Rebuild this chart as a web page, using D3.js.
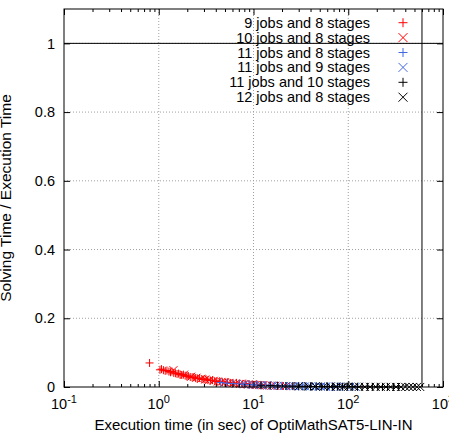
<!DOCTYPE html>
<html lang="en">

<head>
    <title>Solving time ratio</title>
    <meta charset="utf-8">
    <script src="https://d3js.org/d3.v7.min.js"></script>
    <style>
        body { margin: 0; background: #fff; }
        svg { display: block; font-family: "Liberation Sans", Arial, sans-serif; }
        .grid line { stroke: #a0a0a0; stroke-dasharray: 1,2; }
        .tick text { font-size: 14.5px; fill: #000; }
    </style>
</head>

<body>
    <div id="container1"></div>
    <script>
        // Data: [execution time (s), solving time / execution time]
        const labels = ["9 jobs and 8 stages", "10 jobs and 8 stages", "11 jobs and 8 stages",
            "11 jobs and 9 stages", "11 jobs and 10 stages", "12 jobs and 8 stages"];

        const j9s8 = [[0.80, 0.070], [1.03, 0.050], [1.07, 0.052], [1.12, 0.049], [1.17, 0.047], [1.22, 0.048],
            [1.28, 0.045], [1.33, 0.043], [1.38, 0.045], [1.44, 0.041], [1.50, 0.040], [1.56, 0.038],
            [1.62, 0.039], [1.68, 0.036], [1.75, 0.035], [1.82, 0.036], [1.90, 0.033], [1.98, 0.031],
            [2.05, 0.032], [2.15, 0.029], [2.25, 0.028], [2.35, 0.029], [2.45, 0.026], [2.55, 0.025],
            [2.70, 0.026], [2.85, 0.023], [3.00, 0.022], [3.15, 0.023], [3.30, 0.020], [3.50, 0.019],
            [3.70, 0.020], [3.90, 0.017], [4.10, 0.016], [4.40, 0.017], [4.70, 0.014], [5.00, 0.013],
            [5.30, 0.014], [5.70, 0.012], [6.10, 0.011], [6.60, 0.012], [7.10, 0.010], [7.70, 0.009],
            [8.30, 0.010], [9.00, 0.008], [9.80, 0.007], [10.8, 0.008], [12.0, 0.006], [13.5, 0.005]];

        const j10s8 = [[1.43, 0.049], [1.85, 0.036], [2.20, 0.030], [2.50, 0.027], [2.80, 0.024], [3.10, 0.022],
            [3.40, 0.020], [3.80, 0.018], [4.20, 0.016], [4.60, 0.015], [5.00, 0.014], [5.50, 0.012],
            [6.00, 0.011], [6.50, 0.010], [7.20, 0.009], [8.00, 0.0085], [8.80, 0.0075], [9.60, 0.007],
            [10.5, 0.006], [11.5, 0.0055], [12.6, 0.005], [14.0, 0.0045], [15.5, 0.004], [17.0, 0.0035],
            [19.0, 0.003], [22.0, 0.0028], [25.0, 0.0024]];

        const j11s8 = [[4.5, 0.013], [5.2, 0.011], [6.0, 0.010], [7.0, 0.009], [8.0, 0.0075], [9.0, 0.007],
            [10, 0.006], [11, 0.0055], [12, 0.005], [13.5, 0.0045], [15, 0.004], [16.5, 0.0037],
            [18, 0.0033], [20, 0.003], [22, 0.0028], [24, 0.0025], [27, 0.0022], [30, 0.002],
            [33, 0.0018], [36, 0.0016], [40, 0.0015], [45, 0.0013], [50, 0.0012], [56, 0.001],
            [63, 0.0009], [70, 0.0008]];

        const j11s9 = [[8, 0.008], [10, 0.0065], [12, 0.0055], [14, 0.0047], [16, 0.004], [18, 0.0036],
            [21, 0.0032], [24, 0.0028], [27, 0.0025], [31, 0.0022], [35, 0.002], [40, 0.0018],
            [45, 0.0016], [51, 0.0014], [58, 0.0012], [65, 0.0011], [73, 0.001], [82, 0.0009],
            [92, 0.0008], [105, 0.0007], [120, 0.0006]];

        const j11s10 = [[12, 0.005], [15, 0.0042], [18, 0.0036], [22, 0.003], [26, 0.0026], [30, 0.0022],
            [35, 0.002], [40, 0.0017], [46, 0.0015], [52, 0.0013], [60, 0.0012], [68, 0.001],
            [77, 0.0009], [87, 0.0008], [98, 0.0007], [110, 0.0006], [125, 0.0006], [140, 0.0005],
            [160, 0.0005], [180, 0.0004], [205, 0.0004], [230, 0.0003], [260, 0.0003], [300, 0.0002],
            [340, 0.0002]];

        const j12s8 = [[30, 0.0022], [38, 0.0018], [45, 0.0016], [55, 0.0013], [65, 0.0011], [75, 0.001],
            [88, 0.0009], [100, 0.0008], [115, 0.0007], [130, 0.0006], [150, 0.0005], [170, 0.0005],
            [195, 0.0004], [220, 0.0004], [250, 0.0003], [280, 0.0003], [320, 0.0003], [360, 0.0002],
            [400, 0.0002], [440, 0.0002], [480, 0.0001], [530, 0.0001], [575, 0.0001]];

        const series = [j9s8, j10s8, j11s8, j11s9, j11s10, j12s8];
        const xTicks = [0.1, 1, 10, 100, 1000];
        const yTicks = [0, 0.2, 0.4, 0.6, 0.8, 1];
        const timeout = 600;
        const ratioLimit = 1;

        // Styles
        const colors = ["#ff0000", "#ff0000", "#4169e1", "#4169e1", "#000000", "#000000"];
        const shapes = ["plus", "cross", "plus", "cross", "plus", "cross"];

        // Chart dimensions
        const margin = { top: 9, right: 6, bottom: 50, left: 64 };
        const width = 449 - margin.left - margin.right;
        const height = 437 - margin.top - margin.bottom;

        const svg = d3.select("#container1")
            .append("svg")
            .attr("width", 449)
            .attr("height", 437);

        const wrapper = svg.append("g")
            .attr("transform", `translate(${margin.left},${margin.top})`);

        // Create scales
        const xScale = d3.scaleLog()
            .domain([0.1, 1000])
            .range([0, width]);

        const yScale = d3.scaleLinear()
            .domain([0, 1.1])
            .range([height, 0]);

        const minorTicks = xScale.ticks().filter(d => !xTicks.includes(d));

        // Draw grid
        wrapper.append("g")
            .attr("class", "grid")
            .selectAll("line")
            .data(xTicks.slice(1, -1))
            .join("line")
            .attr("x1", d => xScale(d)).attr("x2", d => xScale(d))
            .attr("y1", 0).attr("y2", height);

        wrapper.append("g")
            .attr("class", "grid")
            .selectAll("line")
            .data(yTicks.slice(1))
            .join("line")
            .attr("x1", 0).attr("x2", width)
            .attr("y1", d => yScale(d)).attr("y2", d => yScale(d));

        // Draw data
        const shapePath = {
            plus: s => `M${-s},0H${s}M0,${-s}V${s}`,
            cross: s => `M${-s},${-s}L${s},${s}M${-s},${s}L${s},${-s}`
        };

        series.forEach((data, i) => {
            wrapper.append("g")
                .selectAll("path")
                .data(data)
                .join("path")
                .attr("transform", d => `translate(${xScale(d[0])},${yScale(d[1])})`)
                .attr("d", shapePath[shapes[i]](4))
                .attr("fill", "none")
                .attr("stroke", colors[i])
                .attr("stroke-width", 1);
        });

        // Draw axes (ticks inward, mirrored)
        wrapper.append("g")
            .attr("transform", `translate(0,${height})`)
            .call(d3.axisBottom(xScale).tickValues(xTicks).tickSize(-6).tickFormat(""));
        wrapper.append("g")
            .attr("transform", `translate(0,${height})`)
            .call(d3.axisBottom(xScale).tickValues(minorTicks).tickSize(-3).tickFormat(""));
        wrapper.append("g")
            .call(d3.axisTop(xScale).tickValues(xTicks).tickSize(-6).tickFormat(""));
        wrapper.append("g")
            .call(d3.axisTop(xScale).tickValues(minorTicks).tickSize(-3).tickFormat(""));

        wrapper.append("g")
            .call(d3.axisLeft(yScale).tickValues(yTicks).tickSize(-6).tickPadding(9).tickFormat(d => d));
        wrapper.append("g")
            .attr("transform", `translate(${width},0)`)
            .call(d3.axisRight(yScale).tickValues(yTicks).tickSize(-6).tickFormat(""));

        wrapper.selectAll(".domain").remove();
        wrapper.selectAll(".tick line").attr("stroke", "#000");

        // Frame
        wrapper.append("rect")
            .attr("width", width)
            .attr("height", height)
            .attr("fill", "none")
            .attr("stroke", "#000");

        // X tick labels as powers of ten
        const xLabels = wrapper.append("g")
            .selectAll("text")
            .data(xTicks)
            .join("text")
            .attr("x", d => xScale(d))
            .attr("y", height + 22)
            .attr("text-anchor", "middle")
            .style("font-size", "14.5px");
        xLabels.append("tspan").text("10");
        xLabels.append("tspan")
            .attr("dy", -6)
            .style("font-size", "11px")
            .text(d => Math.round(Math.log10(d)));

        // Reference lines
        wrapper.append("line")
            .attr("x1", 0).attr("x2", width)
            .attr("y1", yScale(ratioLimit)).attr("y2", yScale(ratioLimit))
            .attr("stroke", "#000");

        wrapper.append("line")
            .attr("x1", xScale(timeout)).attr("x2", xScale(timeout))
            .attr("y1", 0).attr("y2", height)
            .attr("stroke", "#000");

        // Axis titles
        svg.append("text")
            .attr("x", margin.left + width / 2)
            .attr("y", 430)
            .attr("text-anchor", "middle")
            .style("font-size", "15px")
            .text("Execution time (in sec) of OptiMathSAT5-LIN-IN");

        svg.append("text")
            .attr("transform", `translate(11,${margin.top + height / 2}) rotate(-90)`)
            .attr("text-anchor", "middle")
            .style("font-size", "15.5px")
            .text("Solving Time / Execution Time");

        // Legend
        const legend = svg.append("g")
            .selectAll("g")
            .data(labels)
            .join("g")
            .attr("transform", (d, i) => `translate(0,${22.7 + i * 14.9})`);

        legend.append("text")
            .attr("x", 370)
            .attr("y", 5)
            .attr("text-anchor", "end")
            .style("font-size", "14.5px")
            .text(d => d);

        legend.append("path")
            .attr("transform", "translate(403,0)")
            .attr("d", (d, i) => shapePath[shapes[i]](4.5))
            .attr("fill", "none")
            .attr("stroke", (d, i) => colors[i])
            .attr("stroke-width", 1);
    </script>
</body>

</html>
